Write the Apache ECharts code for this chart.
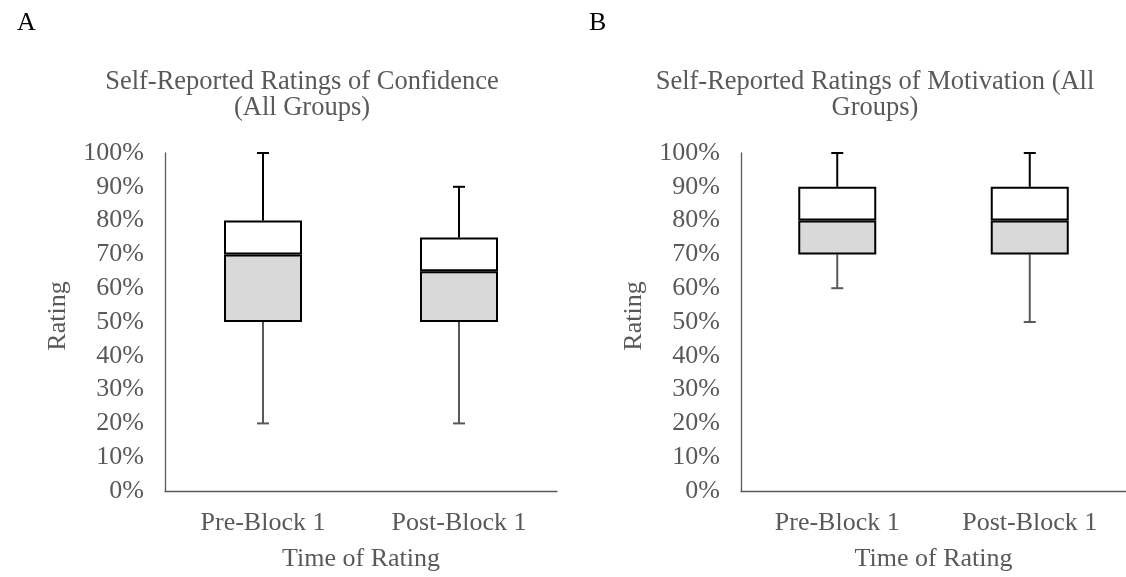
<!DOCTYPE html>
<html>
<head>
<meta charset="utf-8">
<script src="https://cdn.jsdelivr.net/npm/echarts@6/dist/echarts.min.js"></script>
<style>
html,body{margin:0;padding:0;background:#fff;}
#chart{width:1126px;height:577px;}
</style>
</head>
<body>
<div id="chart"></div>
<script>
// ---- data ----
const categories = ['Pre-Block 1', 'Post-Block 1'];
const confMin = [20, 20];
const confQ1 = [50, 50];
const confMedian = [70, 65];
const confQ3 = [80, 75];
const confMax = [100, 90];
const motMin = [60, 50];
const motQ1 = [70, 70];
const motMedian = [80, 80];
const motQ3 = [90, 90];
const motMax = [100, 100];
const yMin = 0, yMax = 100, yStep = 10;
const titleA = 'Self-Reported Ratings of Confidence\n(All Groups)';
const titleB = 'Self-Reported Ratings of Motivation (All\nGroups)';
const yName = 'Rating';
const xName = 'Time of Rating';

// ---- styles ----
const FONT = '"Liberation Serif", "Times New Roman", serif';
const GREY = '#595959';

function whiskerSeries(idx, lows, highs, color) {
  return {
    type: 'custom',
    xAxisIndex: idx, yAxisIndex: idx,
    z: 1,
    data: lows.map((l, i) => [i, l, highs[i]]),
    renderItem: function (params, api) {
      const i = api.value(0);
      const a = api.coord([i, api.value(1)]);
      const b = api.coord([i, api.value(2)]);
      const capW = 6;
      return {
        type: 'group',
        children: [
          { type: 'line', shape: { x1: a[0], y1: a[1], x2: b[0], y2: b[1] },
            style: { stroke: color, lineWidth: 2 } },
          { type: 'line', shape: { x1: b[0] - capW, y1: b[1], x2: b[0] + capW, y2: b[1] },
            style: { stroke: color, lineWidth: 2 } }
        ]
      };
    }
  };
}

function boxSeries(idx, q1, med, q3) {
  const stack = 'box' + idx;
  return [
    { type: 'bar', xAxisIndex: idx, yAxisIndex: idx, stack: stack, barWidth: 78, z: 2,
      itemStyle: { color: 'transparent' }, silent: true, data: q1.slice() },
    { type: 'bar', xAxisIndex: idx, yAxisIndex: idx, stack: stack, barWidth: 78, z: 2,
      itemStyle: { color: '#d9d9d9', borderColor: '#000', borderWidth: 2 },
      data: med.map((m, i) => m - q1[i]) },
    { type: 'bar', xAxisIndex: idx, yAxisIndex: idx, stack: stack, barWidth: 78, z: 2,
      itemStyle: { color: '#ffffff', borderColor: '#000', borderWidth: 2 },
      data: q3.map((q, i) => q - med[i]) }
  ];
}

function xAxis(idx) {
  return {
    type: 'category', gridIndex: idx, data: categories,
    axisLine: { lineStyle: { color: GREY, width: 1.3 } },
    axisTick: { show: false },
    axisLabel: { color: GREY, fontFamily: FONT, fontSize: 26, margin: 19 },
    name: xName, nameLocation: 'middle', nameGap: 55,
    nameTextStyle: { color: GREY, fontFamily: FONT, fontSize: 26 }
  };
}
function yAxis(idx) {
  return {
    type: 'value', gridIndex: idx, min: yMin, max: yMax, interval: yStep,
    axisLine: { show: true, lineStyle: { color: GREY, width: 1.3 } },
    axisTick: { show: false },
    splitLine: { show: false },
    axisLabel: { color: GREY, fontFamily: FONT, fontSize: 26, margin: 21, formatter: '{value}%' },
    name: yName, nameLocation: 'middle', nameGap: 94,
    nameTextStyle: { color: GREY, fontFamily: FONT, fontSize: 26, padding: [0, 0, 0, 12] }
  };
}

const chart = echarts.init(document.getElementById('chart'), null, { renderer: 'canvas' });
chart.setOption({
  animation: false,
  backgroundColor: '#fff',
  title: [
    { text: titleA, left: 297, top: 64, textAlign: 'center',
      textStyle: { color: GREY, fontFamily: FONT, fontSize: 26.5, fontWeight: 'normal', lineHeight: 26 } },
    { text: titleB, left: 870, top: 64, textAlign: 'center',
      textStyle: { color: GREY, fontFamily: FONT, fontSize: 26.5, fontWeight: 'normal', lineHeight: 26 } },
    { text: 'A', left: 12, top: 5,
      textStyle: { color: '#000', fontFamily: FONT, fontSize: 26, fontWeight: 'normal' } },
    { text: 'B', left: 584, top: 5,
      textStyle: { color: '#000', fontFamily: FONT, fontSize: 26, fontWeight: 'normal' } }
  ],
  grid: [
    { left: 165, top: 153, width: 392, height: 340 },
    { left: 741, top: 153, width: 385, height: 340 }
  ],
  xAxis: [xAxis(0), xAxis(1)],
  yAxis: [yAxis(0), yAxis(1)],
  series: [
    whiskerSeries(0, confQ3, confMax, '#000'),
    whiskerSeries(0, confQ1, confMin, GREY),
    ...boxSeries(0, confQ1, confMedian, confQ3),
    whiskerSeries(1, motQ3, motMax, '#000'),
    whiskerSeries(1, motQ1, motMin, GREY),
    ...boxSeries(1, motQ1, motMedian, motQ3)
  ]
});
</script>
</body>
</html>
